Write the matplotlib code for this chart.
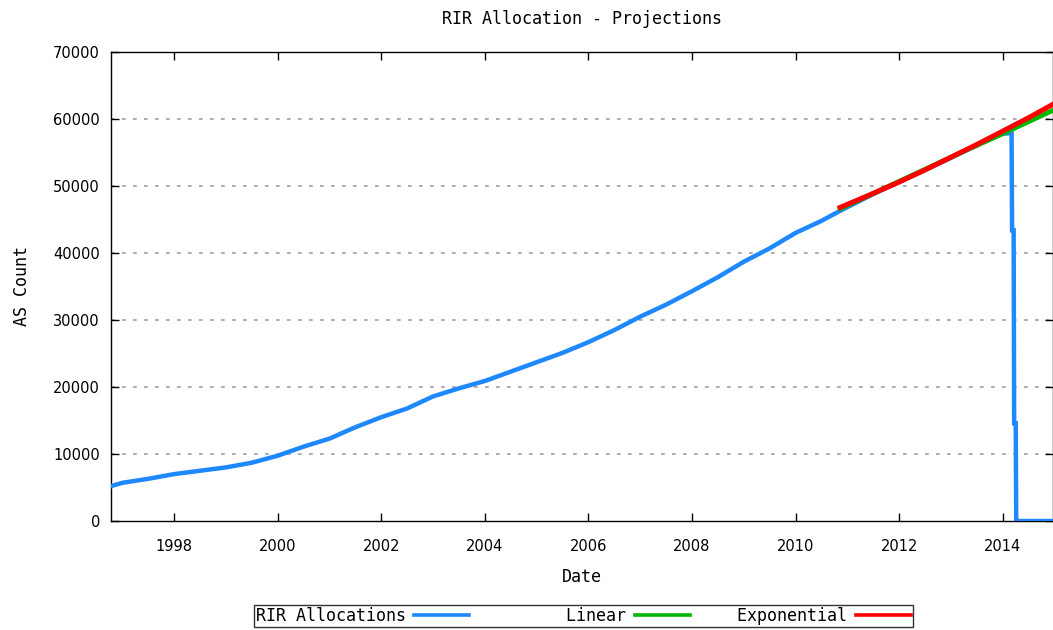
import matplotlib
matplotlib.use("Agg")
import matplotlib.pyplot as plt
from matplotlib.lines import Line2D

# ---- data ----
rir_years = [1996.78, 1997.0, 1997.5, 1998.0, 1998.5, 1999.0, 1999.5, 2000.0, 2000.5,
             2001.0, 2001.5, 2002.0, 2002.5, 2003.0, 2003.5, 2004.0, 2004.5, 2005.0,
             2005.5, 2006.0, 2006.5, 2007.0, 2007.5, 2008.0, 2008.5, 2009.0, 2009.5,
             2010.0, 2010.5, 2010.86, 2011.5, 2012.0, 2012.5, 2013.0, 2013.5, 2013.85,
             2014.0, 2014.17, 2014.18, 2014.21, 2014.22, 2014.25, 2014.26, 2014.97]
rir_values = [5200, 5700, 6300, 7000, 7500, 8000, 8700, 9750, 11100,
              12300, 14000, 15500, 16800, 18600, 19800, 20900, 22300, 23700,
              25100, 26700, 28500, 30500, 32300, 34300, 36400, 38700, 40700,
              43000, 44800, 46300, 48800, 50600, 52400, 54200, 56100, 57500,
              57800, 57900, 43400, 43400, 14600, 14600, 0, 0]

linear_years = [2010.86, 2012.0, 2013.0, 2014.0, 2014.97]
linear_values = [46600, 50700, 54300, 57800, 61300]

exp_years = [2010.86, 2011.5, 2012.0, 2012.5, 2013.0, 2013.5, 2014.0, 2014.5, 2014.97]
exp_values = [46800, 48900, 50600, 52400, 54300, 56200, 58200, 60200, 62200]

x_ticks = [1998, 2000, 2002, 2004, 2006, 2008, 2010, 2012, 2014]
y_ticks = [0, 10000, 20000, 30000, 40000, 50000, 60000, 70000]

title = "RIR Allocation - Projections"
labels = ["RIR Allocations", "Linear", "Exponential"]

# ---- styles ----
BLUE = "#1e88ff"
GREEN = "#00b800"
RED = "#ff0000"
MONO = "DejaVu Sans Mono"

fig = plt.figure(figsize=(10.53, 6.30), dpi=100)
ax = fig.add_axes([111 / 1053, 1 - 521 / 630, 1 - 111 / 1053, (521 - 52) / 630])

ax.plot(rir_years, rir_values, color=BLUE, lw=3.2, solid_joinstyle="miter", zorder=3)
ax.plot(linear_years, linear_values, color=GREEN, lw=3.4, zorder=4)
ax.plot(exp_years, exp_values, color=RED, lw=3.6, zorder=5)

ax.set_xlim(1996.78, 2014.97)
ax.set_ylim(0, 70000)
ax.set_xticks(x_ticks)
ax.set_yticks(y_ticks)
ax.tick_params(direction="in", length=6, width=1, top=True, right=True,
               labelsize=10.5, colors="black")
ax.tick_params(axis="x", pad=13)
ax.tick_params(axis="y", pad=8)
for s in ax.spines.values():
    s.set_linewidth(1.0)
    s.set_color("black")

for yv in y_ticks[1:-1]:
    ax.axhline(yv, color="#a0a0a0", lw=1.2, dashes=(2.2, 4.4), zorder=1)

ax.set_title(title, fontfamily=MONO, fontsize=12, pad=20)
ax.set_xlabel("Date", fontfamily=MONO, fontsize=12, labelpad=10)
ax.set_ylabel("AS Count", fontfamily=MONO, fontsize=12, labelpad=16)

# legend, gnuplot style: right-justified text followed by the sample line
width = max(len(l) for l in labels)
padded = [l.rjust(width) for l in labels]
handles = [Line2D([], [], color=BLUE, lw=2.6),
           Line2D([], [], color=GREEN, lw=2.6),
           Line2D([], [], color=RED, lw=2.6)]
leg = fig.legend(handles, padded, loc="upper center", bbox_to_anchor=(583.0 / 1053, 1 - 605 / 630),
                 ncol=3, markerfirst=False, frameon=True, fancybox=False,
                 prop={"family": MONO, "size": 12}, handlelength=3.3, handletextpad=0.5,
                 columnspacing=0.45, borderpad=0.12, borderaxespad=0)
leg.get_frame().set_edgecolor("black")
leg.get_frame().set_linewidth(1.0)

fig.savefig("out.png", dpi=100)
